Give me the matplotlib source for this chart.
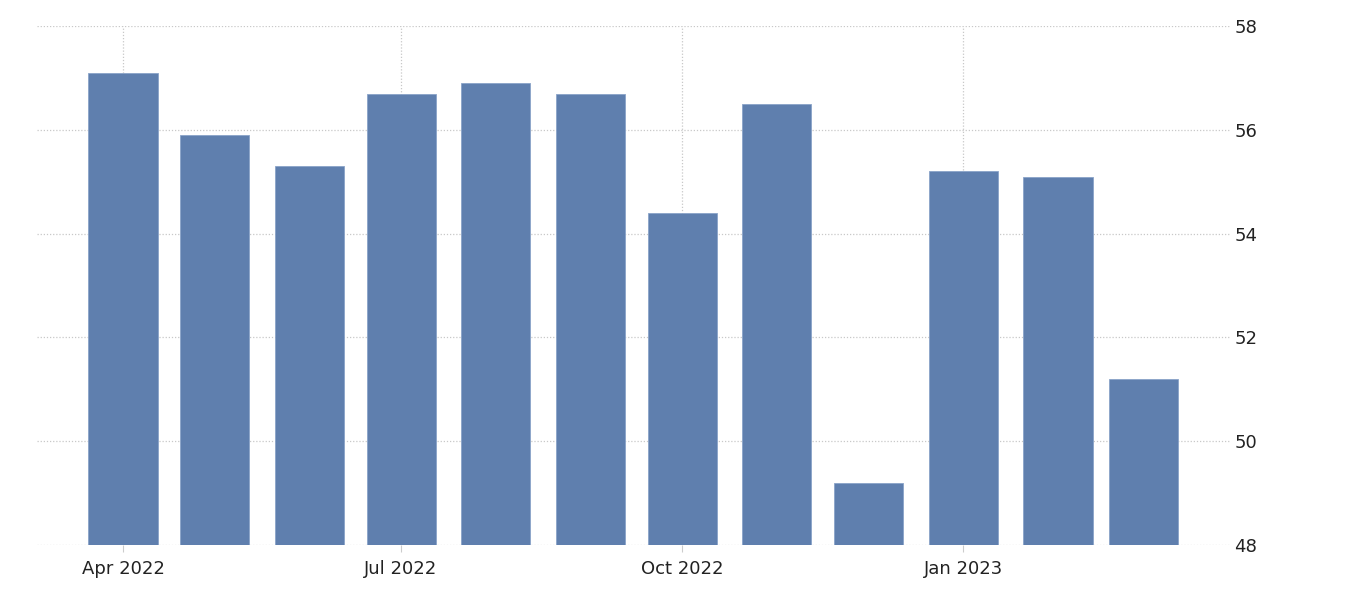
import numpy as np
import matplotlib
matplotlib.use("Agg")
import matplotlib.pyplot as plt
import matplotlib.dates as mdates
from datetime import datetime, timedelta

# monthly values, Apr 2022 - Mar 2023
months = ["2022-04", "2022-05", "2022-06", "2022-07", "2022-08", "2022-09",
          "2022-10", "2022-11", "2022-12", "2023-01", "2023-02", "2023-03"]
values = [57.1, 55.9, 55.3, 56.7, 56.9, 56.7, 54.4, 56.5, 49.2, 55.2, 55.1, 51.2]

tick_dates = ["2022-04", "2022-07", "2022-10", "2023-01"]
tick_labels = ["Apr 2022", "Jul 2022", "Oct 2022", "Jan 2023"]
y_ticks = [48, 50, 52, 54, 56, 58]

dates = [datetime.strptime(m, "%Y-%m") for m in months]

fig = plt.figure(figsize=(13.64, 5.96), dpi=100)
ax = fig.add_axes([0.027, 0.0856, 0.875, 0.8705])

ax.bar(dates, values, width=22.6, color="#5f7fae", edgecolor="#8aa3c8",
       linewidth=0.6, zorder=3, align="center")

ax.set_ylim(48, 58)
ax.set_xlim(datetime(2022, 4, 1) - timedelta(days=28.2),
            datetime(2022, 4, 1) + timedelta(days=362.4))

ax.set_yticks(y_ticks)
ax.yaxis.tick_right()
ax.tick_params(axis="y", length=0, pad=3, labelsize=13, labelcolor="#222222")

ax.set_xticks([datetime.strptime(d, "%Y-%m") for d in tick_dates])
ax.set_xticklabels(tick_labels)
ax.tick_params(axis="x", length=5, width=0.8, color="#cccccc", pad=6,
               labelsize=13, labelcolor="#222222")

ax.grid(True, color="#c8c8c8", linestyle=(0, (1, 1.5)), linewidth=0.9, zorder=0)
for s in ax.spines.values():
    s.set_visible(False)

fig.savefig("out.png", dpi=100)
